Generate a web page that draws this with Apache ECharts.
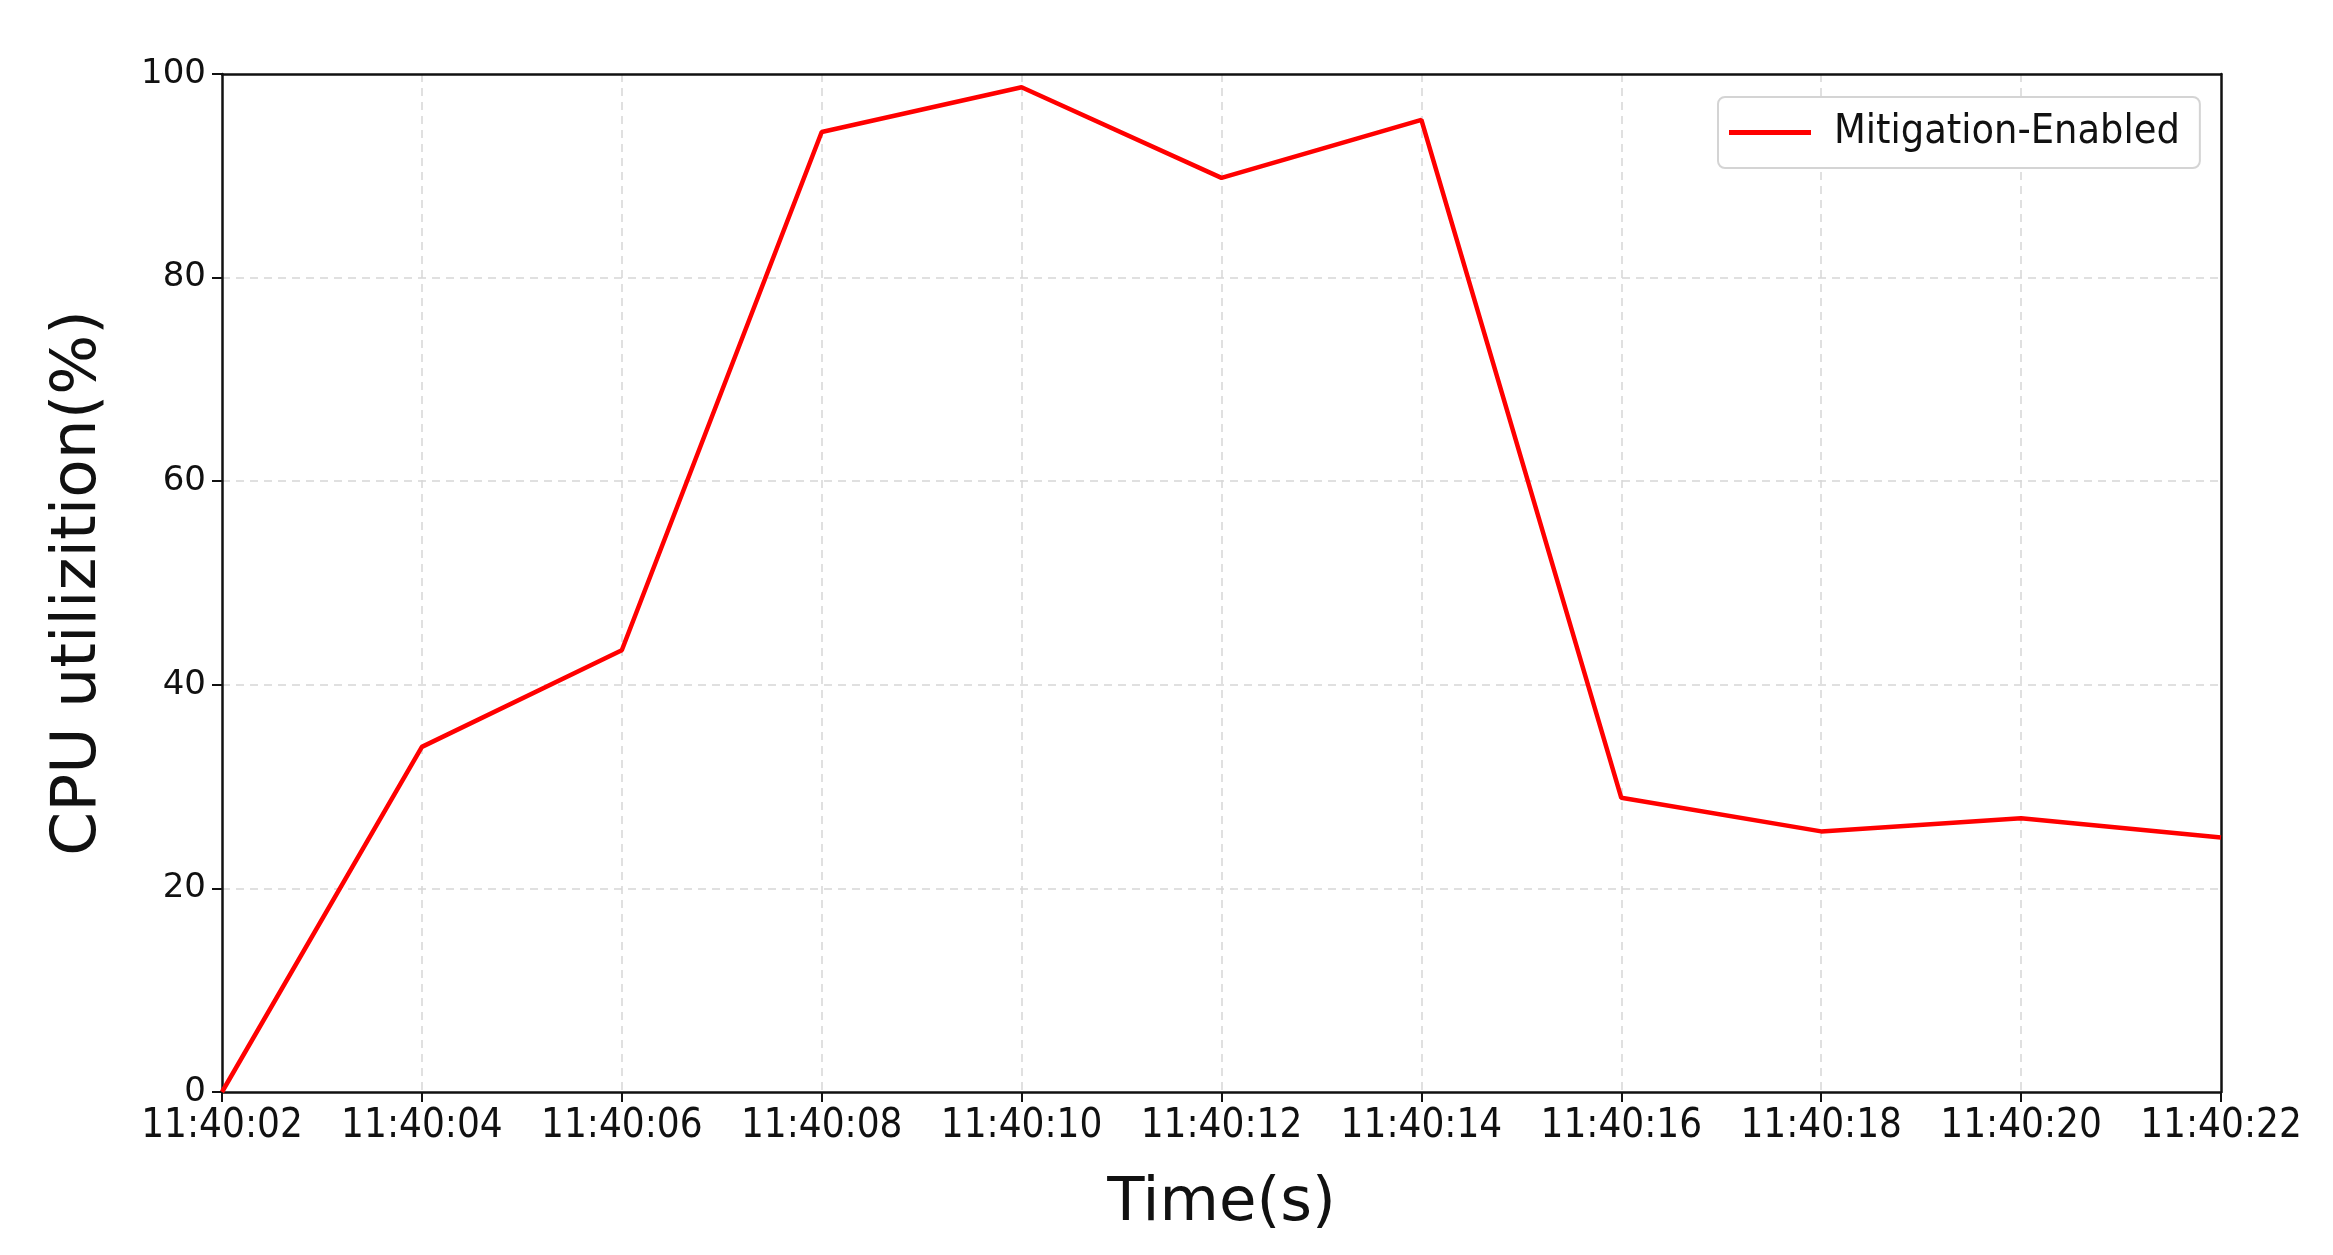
<!DOCTYPE html>
<html>
<head>
<meta charset="utf-8">
<script src="https://cdn.jsdelivr.net/npm/echarts@6/dist/echarts.min.js"></script>
<style>
  html, body { margin: 0; padding: 0; background: #fff; }
  #main { width: 2333px; height: 1255px; }
</style>
</head>
<body>
<div id="main"></div>
<script>
var times = ['11:40:02', '11:40:04', '11:40:06', '11:40:08', '11:40:10', '11:40:12',
             '11:40:14', '11:40:16', '11:40:18', '11:40:20', '11:40:22'];
var cpuMitigation = [0, 33.9, 43.4, 94.3, 98.7, 89.8, 95.5, 28.9, 25.6, 26.9, 25.0];
var yTicks = [0, 20, 40, 60, 80, 100];

var dom = document.getElementById('main');
var myChart = echarts.init(dom);

var dashed = {
    show: true, showMinLine: false, showMaxLine: false,
    lineStyle: { color: '#d6d6d6', width: 1.5, type: [8, 6] }
};
var frameLine = { show: true, onZero: false, lineStyle: { color: '#111', width: 2.5 } };

var option = {
    animation: false,
    backgroundColor: '#fff',
    textStyle: { fontFamily: 'DejaVu Sans' },
    grid: { left: 222, right: 112, top: 74, bottom: 163 },
    legend: {
        data: ['Mitigation-Enabled'],
        left: 1718, top: 97,
        padding: [15, 20, 15, 11],
        backgroundColor: '#fff',
        borderColor: '#d4d4d4', borderWidth: 2, borderRadius: 7,
        icon: 'rect', itemWidth: 82, itemHeight: 5,
        textStyle: {
            fontFamily: 'DejaVu Sans Condensed', fontSize: 41, color: '#111',
            padding: [0, 0, 0, 18]
        }
    },
    xAxis: [{
        type: 'category',
        data: times,
        boundaryGap: false,
        name: 'Time(s)',
        nameLocation: 'middle',
        nameGap: 82,
        nameTextStyle: { fontSize: 61, color: '#111', fontFamily: 'DejaVu Sans' },
        axisLine: frameLine,
        axisTick: { show: true, alignWithLabel: true, length: 10, lineStyle: { color: '#111', width: 2 } },
        axisLabel: { fontSize: 40, color: '#111', margin: 15, fontFamily: 'DejaVu Sans Condensed', interval: 0 },
        splitLine: dashed
    }, {
        type: 'category',
        data: times,
        boundaryGap: false,
        position: 'top',
        axisLine: frameLine,
        axisTick: { show: false },
        axisLabel: { show: false },
        splitLine: { show: false }
    }],
    yAxis: [{
        type: 'value',
        min: 0, max: 100, interval: 20,
        name: 'CPU utilizition(%)',
        nameLocation: 'middle',
        nameGap: 112,
        nameTextStyle: { fontSize: 63, color: '#111', fontFamily: 'DejaVu Sans' },
        axisLine: frameLine,
        axisTick: { show: true, length: 10, lineStyle: { color: '#111', width: 2 } },
        axisLabel: {
            fontSize: 34, color: '#111', margin: 16,
            formatter: function (v) { return yTicks.indexOf(v) >= 0 ? String(v) : ''; }
        },
        splitLine: dashed
    }, {
        type: 'value',
        min: 0, max: 100, interval: 20,
        position: 'right',
        axisLine: frameLine,
        axisTick: { show: false },
        axisLabel: { show: false },
        splitLine: { show: false }
    }],
    series: [{
        name: 'Mitigation-Enabled',
        type: 'line',
        data: cpuMitigation,
        showSymbol: false,
        symbol: 'none',
        lineStyle: { color: '#ff0000', width: 4.5 },
        itemStyle: { color: '#ff0000' }
    }]
};

if (option && typeof option === 'object') {
    myChart.setOption(option, true);
}
</script>
</body>
</html>
